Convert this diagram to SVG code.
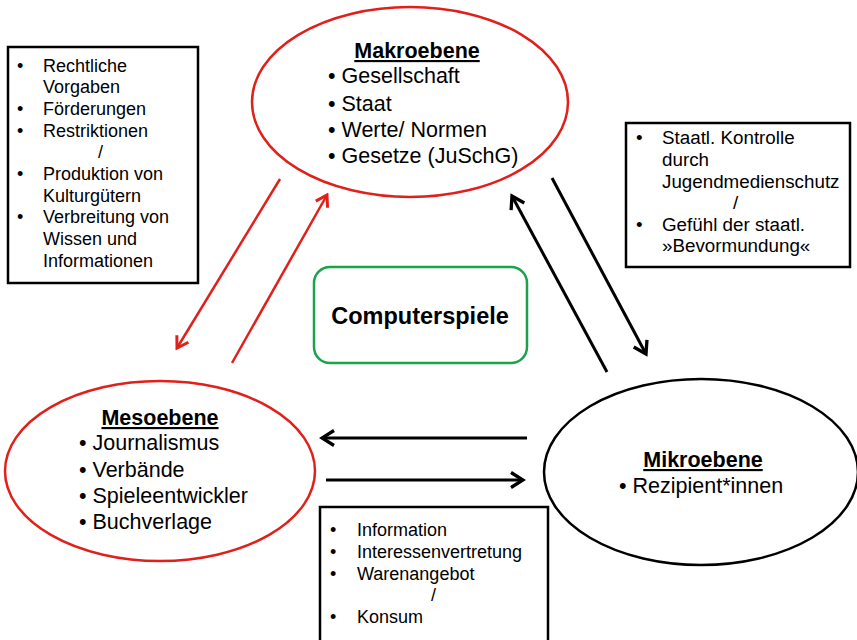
<svg xmlns="http://www.w3.org/2000/svg" width="857" height="640" viewBox="0 0 857 640">
<style>
text{font-family:"Liberation Sans",Arial,sans-serif;fill:#000}
.title{font-size:21.5px;font-weight:bold;text-decoration:underline;text-anchor:middle}
.item{font-size:21.5px}
.box{font-size:18px}
.boxr{font-size:18.8px}
.red{fill:#fff;stroke:#e0201b;stroke-width:2.5}
.blk{fill:#fff;stroke:#000;stroke-width:2.5}
.rect{fill:#fff;stroke:#000;stroke-width:2.5}
.cr{stroke:#e0201b;stroke-width:2.5;fill:none;marker-end:url(#ar)}
.cb{stroke:#000;stroke-width:3;fill:none;marker-end:url(#ab)}
</style>
<defs>
<marker id="ar" viewBox="0 0 12 12" refX="10" refY="6" markerWidth="6.5" markerHeight="6.5" orient="auto" markerUnits="strokeWidth">
<path d="M2,1 L10,6 L2,11" fill="none" stroke="#e0201b" stroke-width="2.2" stroke-linejoin="miter"/>
</marker>
<marker id="ab" viewBox="0 0 12 12" refX="10" refY="6" markerWidth="6" markerHeight="6" orient="auto" markerUnits="strokeWidth">
<path d="M2,1 L10,6 L2,11" fill="none" stroke="#000" stroke-width="2.2" stroke-linejoin="miter"/>
</marker>
</defs>
<rect width="857" height="640" fill="#fff"/>

<g id="connectors">
<line class="cr" x1="280" y1="179" x2="177" y2="348"/>
<line class="cr" x1="232" y1="363" x2="327" y2="195"/>
<line class="cb" x1="552" y1="178" x2="646" y2="354"/>
<line class="cb" x1="607" y1="372" x2="512" y2="196"/>
<line class="cb" x1="527" y1="438" x2="322" y2="438"/>
<line class="cb" x1="326" y1="480" x2="523" y2="480"/>
</g>

<g id="makroebene">
<ellipse class="red" cx="410" cy="102" rx="158" ry="95"/>
<text class="title" x="417" y="58">Makroebene</text>
<text class="item" x="328" y="83">• Gesellschaft</text>
<text class="item" x="328" y="111">• Staat</text>
<text class="item" x="328" y="137">• Werte/ Normen</text>
<text class="item" x="328" y="163">• Gesetze (JuSchG)</text>
</g>

<g id="mesoebene">
<ellipse class="red" cx="160" cy="471" rx="155" ry="90"/>
<text class="title" x="160" y="425">Mesoebene</text>
<text class="item" x="79" y="450">• Journalismus</text>
<text class="item" x="79" y="477">• Verbände</text>
<text class="item" x="79" y="503">• Spieleentwickler</text>
<text class="item" x="79" y="529">• Buchverlage</text>
</g>

<g id="mikroebene">
<ellipse class="blk" cx="701" cy="472" rx="157" ry="93"/>
<text class="title" x="703" y="467">Mikroebene</text>
<text class="item" x="619" y="493">• Rezipient*innen</text>
</g>

<g id="computerspiele">
<rect x="314" y="267" width="213" height="96" rx="16" fill="#fff" stroke="#1aa34a" stroke-width="2.5"/>
<text x="420" y="324" font-size="23.5" font-weight="bold" text-anchor="middle">Computerspiele</text>
</g>

<g id="box-links">
<rect class="rect" x="8" y="47" width="190" height="236"/>
<text class="box" x="17" y="72">•</text><text class="box" x="43" y="72">Rechtliche</text>
<text class="box" x="43" y="93">Vorgaben</text>
<text class="box" x="17" y="115">•</text><text class="box" x="43" y="115">Förderungen</text>
<text class="box" x="17" y="137">•</text><text class="box" x="43" y="137">Restriktionen</text>
<text class="box" x="98" y="158">/</text>
<text class="box" x="17" y="180">•</text><text class="box" x="43" y="180">Produktion von</text>
<text class="box" x="43" y="202">Kulturgütern</text>
<text class="box" x="17" y="223">•</text><text class="box" x="43" y="223">Verbreitung von</text>
<text class="box" x="43" y="245">Wissen und</text>
<text class="box" x="43" y="267">Informationen</text>
</g>

<g id="box-rechts">
<rect class="rect" x="626" y="123" width="224" height="144"/>
<text class="boxr" x="636" y="144">•</text><text class="boxr" x="662" y="144">Staatl. Kontrolle</text>
<text class="boxr" x="662" y="166">durch</text>
<text class="boxr" x="662" y="188">Jugendmedienschutz</text>
<text class="boxr" x="733" y="209">/</text>
<text class="boxr" x="636" y="231">•</text><text class="boxr" x="662" y="231">Gefühl der staatl.</text>
<text class="boxr" x="662" y="252">»Bevormundung«</text>
</g>

<g id="box-unten">
<rect class="rect" x="320" y="507" width="228" height="140"/>
<text class="box" x="330" y="536">•</text><text class="box" x="357" y="536">Information</text>
<text class="box" x="330" y="558">•</text><text class="box" x="357" y="558">Interessenvertretung</text>
<text class="box" x="330" y="580">•</text><text class="box" x="357" y="580">Warenangebot</text>
<text class="box" x="431" y="601">/</text>
<text class="box" x="330" y="623">•</text><text class="box" x="357" y="623">Konsum</text>
</g>
</svg>
